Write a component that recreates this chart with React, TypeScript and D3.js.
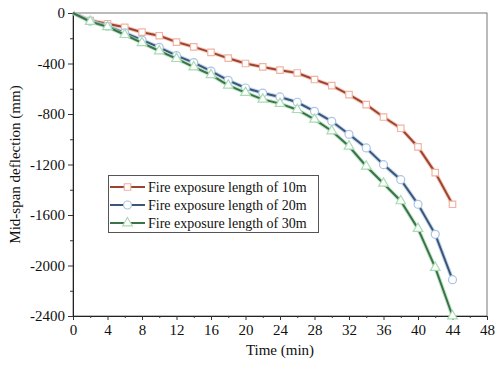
import React, { useEffect, useRef } from 'react';
import * as d3 from 'd3';

// time in minutes
const times = [0, 2, 4, 6, 8, 10, 12, 14, 16, 18, 20, 22, 24, 26, 28, 30, 32, 34, 36, 38, 40, 42, 44];

// mid-span deflection (mm)
const len10 = [0, -60, -85, -113, -152, -180, -230, -268, -312, -358, -400, -427, -453, -475, -527, -575, -647, -726, -824, -913, -1061, -1264, -1515];
const len20 = [0, -65, -105, -158, -214, -272, -338, -393, -460, -533, -594, -634, -665, -707, -779, -858, -961, -1069, -1201, -1320, -1515, -1753, -2112];
const len30 = [0, -68, -110, -172, -236, -301, -362, -428, -490, -573, -631, -684, -718, -766, -843, -935, -1056, -1214, -1350, -1489, -1708, -2017, -2400];

const seriesNames = ['Fire exposure length of 10m', 'Fire exposure length of 20m', 'Fire exposure length of 30m'];
const xTicks = [0, 4, 8, 12, 16, 20, 24, 28, 32, 36, 40, 44, 48];
const yTicks = [0, -400, -800, -1200, -1600, -2000, -2400];

const App = () => {
  const svgRef = useRef<SVGSVGElement>(null);

  useEffect(() => {
    const svg = d3.select(svgRef.current);
    svg.selectAll('*').remove();
    const width = 502;
    const height = 369;
    const margin = { top: 13, right: 15, bottom: 53, left: 73 };
    const font = '"Liberation Serif", "Times New Roman", serif';

    const x = d3.scaleLinear().domain([0, 48]).range([margin.left, width - margin.right]);
    const y = d3.scaleLinear().domain([-2400, 0]).range([height - margin.bottom, margin.top]);

    // frame
    svg.append('rect')
      .attr('x', x(0)).attr('y', y(0))
      .attr('width', x(48) - x(0)).attr('height', y(-2400) - y(0))
      .attr('fill', 'none').attr('stroke', '#777').attr('stroke-width', 1);

    // X Axis
    const xAxis = svg.append('g')
      .attr('transform', `translate(0, ${y(-2400)})`)
      .call(d3.axisBottom(x).tickValues(xTicks).tickSize(4).tickPadding(4).tickFormat(d => String(d)));
    svg.append('g')
      .attr('transform', `translate(0, ${y(-2400)})`)
      .call(d3.axisBottom(x).tickValues(d3.range(2, 48, 4)).tickSize(2).tickFormat(() => ''))
      .select('.domain').remove();

    // Y Axis
    const yAxis = svg.append('g')
      .attr('transform', `translate(${x(0)}, 0)`)
      .call(d3.axisLeft(y).tickValues(yTicks).tickSize(5).tickPadding(3).tickFormat(d => String(d)));
    svg.append('g')
      .attr('transform', `translate(${x(0)}, 0)`)
      .call(d3.axisLeft(y).tickValues(d3.range(-2200, 0, 400)).tickSize(3).tickFormat(() => ''))
      .select('.domain').remove();

    [xAxis, yAxis].forEach(a => {
      a.selectAll('text').attr('font-family', font).attr('font-size', 15).attr('fill', '#111');
    });
    svg.selectAll('.domain').attr('stroke', '#222');
    svg.selectAll('.tick line').attr('stroke', '#333');

    // titles
    svg.append('text')
      .attr('x', (x(0) + x(48)) / 2).attr('y', 355)
      .attr('text-anchor', 'middle')
      .attr('font-family', font).attr('font-size', 15).attr('fill', '#111')
      .text('Time (min)');
    svg.append('text')
      .attr('transform', `translate(20, ${(y(0) + y(-2400)) / 2}) rotate(-90)`)
      .attr('text-anchor', 'middle')
      .attr('font-family', font).attr('font-size', 15).attr('fill', '#111')
      .text('Mid-span deflection (mm)');

    const series = [
      { name: seriesNames[0], values: len10, line: '#9b4530', halo: '#f2b3a4', marker: 'square' },
      { name: seriesNames[1], values: len20, line: '#3b5677', halo: '#aac4e6', marker: 'circle' },
      { name: seriesNames[2], values: len30, line: '#3a7348', halo: '#a9dcb4', marker: 'triangle' },
    ];

    const symbolFor = (m: string) =>
      m === 'square' ? d3.symbol(d3.symbolSquare, 42)
        : m === 'circle' ? d3.symbol(d3.symbolCircle, 50)
          : d3.symbol(d3.symbolTriangle, 40);

    const line = d3.line<number>()
      .x((_, i) => x(times[i]))
      .y(d => y(d));

    series.forEach(s => {
      svg.append('path')
        .datum(s.values)
        .attr('d', line)
        .attr('fill', 'none')
        .attr('stroke', s.halo)
        .attr('stroke-width', 4)
        .attr('stroke-opacity', 0.7);
      svg.append('path')
        .datum(s.values)
        .attr('d', line)
        .attr('fill', 'none')
        .attr('stroke', s.line)
        .attr('stroke-width', 2);
      svg.append('g')
        .selectAll('path')
        .data(s.values.slice(1))
        .enter()
        .append('path')
        .attr('d', symbolFor(s.marker)())
        .attr('transform', (d, i) => `translate(${x(times[i + 1])}, ${y(d)})`)
        .attr('fill', '#fff')
        .attr('stroke', s.halo)
        .attr('stroke-width', 1.2);
    });

    // Legend
    const lg = svg.append('g');
    lg.append('rect')
      .attr('x', 108.5).attr('y', 175.5)
      .attr('width', 210).attr('height', 57)
      .attr('fill', '#fff').attr('stroke', '#555').attr('stroke-width', 1);
    series.forEach((s, i) => {
      const yy = 187 + i * 18;
      lg.append('line')
        .attr('x1', 110).attr('x2', 145).attr('y1', yy).attr('y2', yy)
        .attr('stroke', s.line).attr('stroke-width', 2);
      lg.append('path')
        .attr('d', symbolFor(s.marker)())
        .attr('transform', `translate(127.5, ${yy})`)
        .attr('fill', '#fff').attr('stroke', s.halo).attr('stroke-width', 1.2);
      lg.append('text')
        .attr('x', 148).attr('y', yy).attr('dy', '0.35em')
        .attr('font-family', font).attr('font-size', 14).attr('fill', '#111')
        .text(s.name);
    });
  }, []);

  return <svg ref={svgRef} width={502} height={369} style={{ position: 'absolute', left: 0, top: 0, background: '#fff' }}></svg>;
};

export default App;
